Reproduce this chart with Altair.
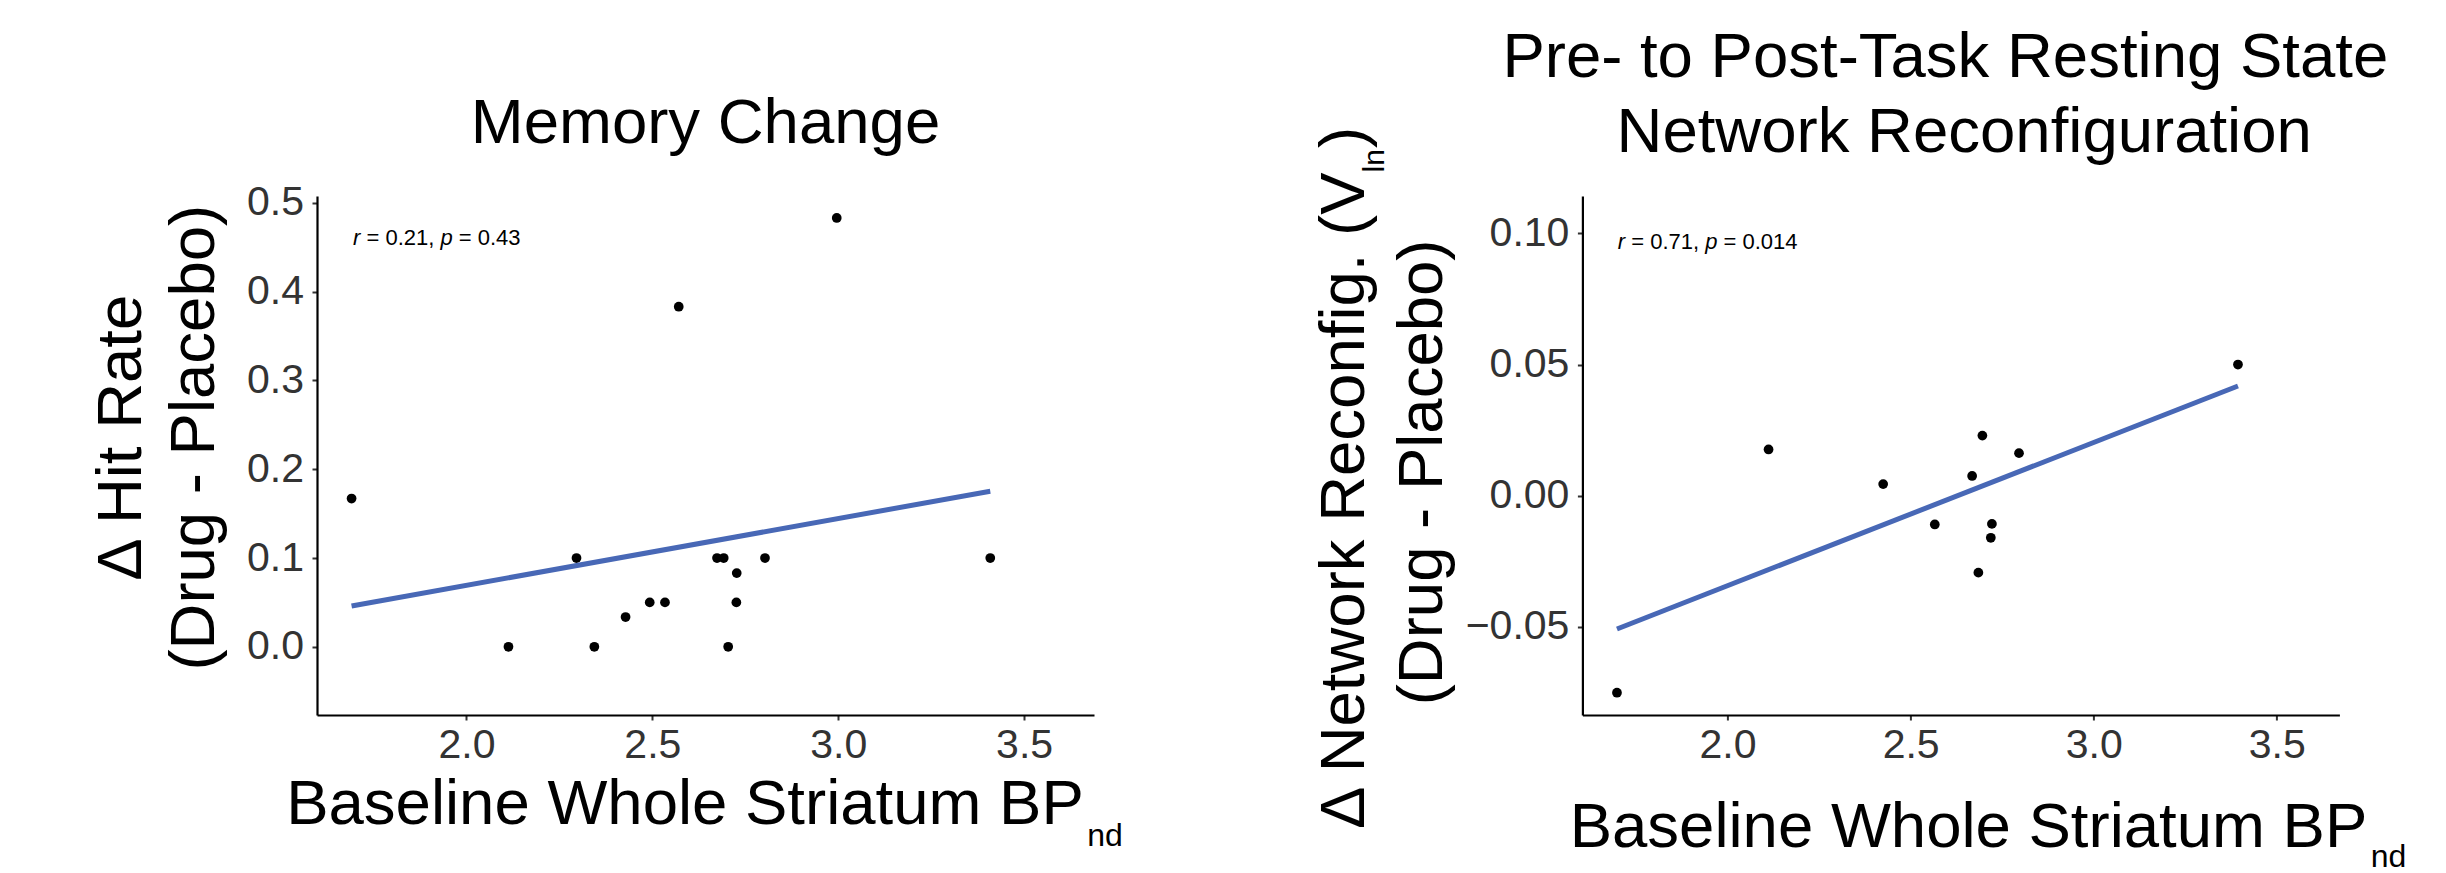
import altair as alt
import pandas as pd

# ---------------- data ----------------
# Panel 1: Memory change
mem_bp = [1.691, 2.113, 2.296, 2.344, 2.428, 2.493, 2.534, 2.571, 2.674,
          2.692, 2.704, 2.727, 2.726, 2.803, 2.996, 3.409]
mem_hit = [0.167, 0.0, 0.1, 0.0, 0.0335, 0.05, 0.05, 0.383, 0.1,
           0.1, 0.0, 0.083, 0.05, 0.1, 0.483, 0.1]

# Panel 2: Network reconfiguration
net_bp = [1.698, 2.112, 2.425, 2.566, 2.668, 2.685, 2.696, 2.722, 2.719,
          2.796, 3.394]
net_reconf = [-0.0752, 0.0176, 0.0044, -0.011, 0.0075, -0.0294, 0.0229,
              -0.0108, -0.0161, 0.0162, 0.050]

x_ticks = [2.0, 2.5, 3.0, 3.5]
mem_y_ticks = [0.0, 0.1, 0.2, 0.3, 0.4, 0.5]
net_y_ticks = [-0.05, 0.0, 0.05, 0.10]

mem_stat = ["r", "= 0.21,", "p", "= 0.43"]
net_stat = ["r", "= 0.71,", "p", "= 0.014"]

# ---------------- styling ----------------
FONT = "Liberation Sans, Arial, Helvetica, sans-serif"
LINE_COLOR = "#4868B6"
BIG = 63.5
TICK_FONT = 41
TICK_COLOR = "#333333"
H = 519
W1, W2 = 777, 757


def x_axis():
    return alt.Axis(values=x_ticks, format=".1f", title=None, grid=False,
                    domainColor="black", domainWidth=2.2, tickColor="#333333",
                    tickWidth=2, tickSize=5, labelPadding=5.8, labelFont=FONT,
                    labelFontSize=TICK_FONT, labelColor=TICK_COLOR,
                    labelFlush=False, labelOverlap=False)


def y_axis(vals, fmt):
    return alt.Axis(values=vals, format=fmt, title=None, grid=False,
                    domainColor="black", domainWidth=2.2, tickColor="#333333",
                    tickWidth=2, tickSize=5, labelPadding=8.5, labelFont=FONT,
                    labelFontSize=TICK_FONT, labelColor=TICK_COLOR,
                    labelFlush=False, labelOverlap=False)


def txt(text, x, y, size, angle=0, align="center", style="normal"):
    return alt.Chart(pd.DataFrame({"t": [text]})).mark_text(
        font=FONT, fontSize=size, angle=angle, align=align,
        baseline="alphabetic", fontStyle=style, color="black"
    ).encode(text="t:N", x=alt.value(x), y=alt.value(y))


def stat_label(parts, x0, y0):
    offs = [0, 13.4, 87.4, 105.7]
    styles = ["italic", "normal", "italic", "normal"]
    return [txt(p, x0 + o, y0, 22, align="left", style=s)
            for p, o, s in zip(parts, offs, styles)]


def scatter_panel(xs, ys, xdom, ydom, yticks, yfmt):
    df = pd.DataFrame({"bp": xs, "v": ys})
    enc_x = alt.X("bp:Q", scale=alt.Scale(domain=xdom, nice=False, zero=False),
                  axis=x_axis())
    enc_y = alt.Y("v:Q", scale=alt.Scale(domain=ydom, nice=False, zero=False),
                  axis=y_axis(yticks, yfmt))
    pts = alt.Chart(df).mark_circle(size=95, color="black", opacity=1).encode(
        x=enc_x, y=enc_y)
    fit = alt.Chart(df).transform_regression("bp", "v").mark_line(
        color=LINE_COLOR, strokeWidth=5).encode(x=enc_x, y=enc_y)
    return [pts, fit]


# ---------------- panel 1 ----------------
p1_layers = scatter_panel(mem_bp, mem_hit, [1.598, 3.688], [-0.0768, 0.5077],
                          mem_y_ticks, ".1f")
anchor = alt.Chart(pd.DataFrame({"a": [0]})).mark_rule(
    strokeOpacity=0, opacity=0).encode(
    x=alt.value(-308.5), x2=alt.value(-308.5),
    y=alt.value(-187.3), y2=alt.value(-187.3))
p1_text = [
    txt("Memory Change", 388.5, -52.6, BIG),
    txt("Δ Hit Rate", -176.5, 241.7, BIG, angle=270),
    txt("(Drug - Placebo)", -103.5, 241.7, BIG, angle=270),
    txt("Baseline Whole Striatum BP", 766.8, 628, BIG, align="right"),
    txt("nd", 770.2, 649.7, 32, align="left"),
] + stat_label(mem_stat, 36.1, 49)

panel1 = alt.layer(anchor, *p1_layers, *p1_text).properties(width=W1, height=H)

# ---------------- panel 2 ----------------
p2_layers = scatter_panel(net_bp, net_reconf, [1.6036, 3.671], [-0.0837, 0.1143],
                          net_y_ticks, ".2f")
p2_text = [
    txt("Pre- to Post-Task Resting State", 362.9, -119.3, BIG),
    txt("Network Reconfiguration", 381.8, -43.6, BIG),
    txt("Δ Network Reconfig. (V", -218.4, -23.6, BIG, angle=270, align="right"),
    txt("ln", -198.4, -23.6, 30, angle=270, align="left"),
    txt(")", -218.4, -48.0, BIG, angle=270, align="left"),
    txt("(Drug - Placebo)", -140.7, 276.4, BIG, angle=270),
    txt("Baseline Whole Striatum BP", 784.9, 651.4, BIG, align="right"),
    txt("nd", 788.3, 671.4, 32, align="left"),
] + stat_label(net_stat, 35.4, 52.5)

panel2 = alt.layer(*p2_layers, *p2_text).properties(width=W2, height=H)

chart = alt.hconcat(panel1, panel2, spacing=488.4, bounds="flush", padding=0
                    ).configure_view(stroke=None)

chart.save("out.html", embed_options={"renderer": "svg", "actions": False})
